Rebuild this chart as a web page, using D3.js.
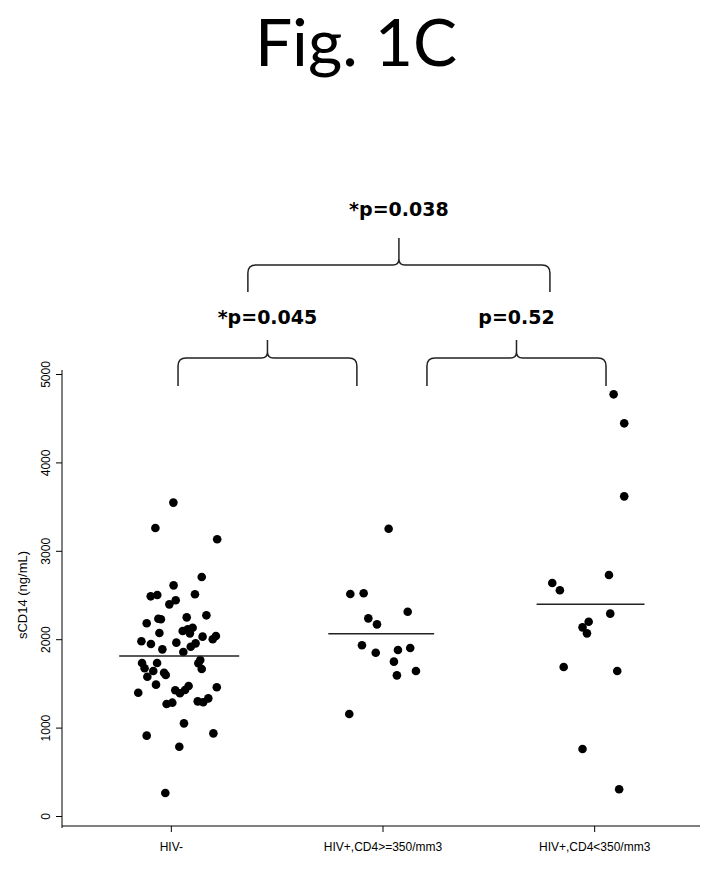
<!DOCTYPE html>
<html><head><meta charset="utf-8">
<script src="https://cdn.jsdelivr.net/npm/d3@7"></script>
<style>body{margin:0;background:#fff}</style>
</head><body><svg id="c" width="712" height="870"></svg>
<script>
const groups = ['HIV-', 'HIV+,CD4>=350/mm3', 'HIV+,CD4<350/mm3'];
const yTicks = [0, 1000, 2000, 3000, 4000, 5000];
// [position, sCD14]
const hivNeg = [[1.012,3545],[0.927,3258],[1.219,3130],[1.146,2704],[1.013,2609],[0.905,2485],[0.936,2500],[1.114,2508],[0.993,2394],[1.023,2440],
  [0.886,2180],[0.941,2232],[0.953,2225],[1.075,2247],[1.168,2270],[0.946,2070],[1.056,2093],[1.080,2112],[1.103,2130],[1.090,2066],
  [0.861,1976],[0.906,1946],[1.026,1961],[1.150,2029],[1.198,1999],[1.213,2036],[1.117,1953],[1.094,1915],[0.960,1885],[1.059,1855],
  [0.864,1731],[0.876,1671],[0.935,1731],[0.917,1640],[0.889,1576],[0.968,1621],[0.976,1595],[1.130,1727],[1.146,1663],[1.139,1765],
  [0.930,1486],[0.846,1395],[1.021,1422],[1.043,1388],[1.067,1425],[1.084,1471],[1.217,1456],[0.980,1267],[1.007,1282],[1.127,1297],
  [1.153,1286],[1.177,1331],[1.062,1048],[0.886,909],[1.201,935],[1.040,784],[0.974,260]];
const hivHigh = [[2.029,3250],[1.848,2511],[1.911,2519],[2.119,2311],[1.933,2236],[1.974,2168],[1.903,1931],[1.968,1847],[2.073,1878],
  [2.131,1900],[2.054,1746],[2.158,1640],[2.068,1591],[1.843,1154]];
const hivLow = [[3.092,4770],[3.142,4442],[3.142,3616],[3.070,2726],[2.802,2636],[2.838,2553],[3.076,2289],[2.974,2198],[2.945,2134],
  [2.966,2066],[2.856,1686],[3.109,1640],[2.945,758],[3.118,302]];
// [from, to, value]
const medians = [[0.756,1.323,1810],[1.744,2.244,2062],[2.728,3.238,2394]];
// [from, to, label, level]
const brackets = [[1.034,1.879,'*p=0.045',0],[2.210,3.056,'p=0.52',0],[1.364,2.791,'*p=0.038',1]];

const svg = d3.select('#c');
const x = d3.scaleLinear().domain([0.5, 3.5]).range([65, 700]);
const y = d3.scaleLinear().domain([0, 5000]).range([816, 374]);

svg.append('text').attr('x', 356).attr('y', 66).attr('text-anchor', 'middle')
  .style('font', '66px Lato, "Open Sans", sans-serif').text('Fig. 1C');

// axes
const ya = svg.append('g').attr('transform', 'translate(62,0)')
  .call(d3.axisLeft(y).tickValues(yTicks).tickSize(6).tickFormat(d3.format('d')));
ya.select('.domain').attr('d', `M0,${y(5000) - 4}V828`);
ya.selectAll('text').attr('transform', 'rotate(-90)').attr('x', 0).attr('y', -12)
  .attr('dy', 0).attr('text-anchor', 'middle').style('font', '12px "Liberation Sans", Arial, sans-serif');

const xa = svg.append('g').attr('transform', 'translate(0,826)')
  .call(d3.axisBottom(x).tickValues([1, 2, 3]).tickSize(6).tickFormat((d, i) => groups[i]));
xa.select('.domain').attr('d', `M62,0H${x(3.5)}`);
xa.selectAll('text').attr('y', 16).style('font', '12px "Liberation Sans", Arial, sans-serif');

svg.append('text').attr('transform', 'translate(27,' + y(2500) + ') rotate(-90)')
  .attr('text-anchor', 'middle').style('font', '13px "Liberation Sans", Arial, sans-serif').text('sCD14 (ng/mL)');

// points
for (const g of [hivNeg, hivHigh, hivLow]) {
  svg.append('g').selectAll('circle').data(g).join('circle')
    .attr('cx', d => x(d[0])).attr('cy', d => y(d[1])).attr('r', 4.3).attr('fill', '#000');
}
svg.append('g').selectAll('line').data(medians).join('line')
  .attr('x1', d => x(d[0])).attr('x2', d => x(d[1]))
  .attr('y1', d => y(d[2])).attr('y2', d => y(d[2]))
  .attr('stroke', '#222').attr('stroke-width', 1.5);

// brackets
const lvl = [{ bot: 386, top: 358, peak: 340, ty: 324 }, { bot: 292, top: 265, peak: 238, ty: 216 }];
for (const [a, b, lab, l] of brackets) {
  const L = lvl[l], x0 = x(a), x1 = x(b), xm = (x0 + x1) / 2, r = 8;
  const p = `M${x0},${L.bot}V${L.top + r}Q${x0},${L.top} ${x0 + r},${L.top}H${xm - 6}` +
    `Q${xm},${L.top} ${xm},${L.top - 6}V${L.peak}M${xm},${L.top - 6}Q${xm},${L.top} ${xm + 6},${L.top}` +
    `H${x1 - r}Q${x1},${L.top} ${x1},${L.top + r}V${L.bot}`;
  svg.append('path').attr('d', p).attr('fill', 'none').attr('stroke', '#222').attr('stroke-width', 1.5);
  svg.append('text').attr('x', xm).attr('y', L.ty).attr('text-anchor', 'middle')
    .style('font', 'bold 19px "DejaVu Sans", Verdana, sans-serif').text(lab);
}
</script></body></html>
